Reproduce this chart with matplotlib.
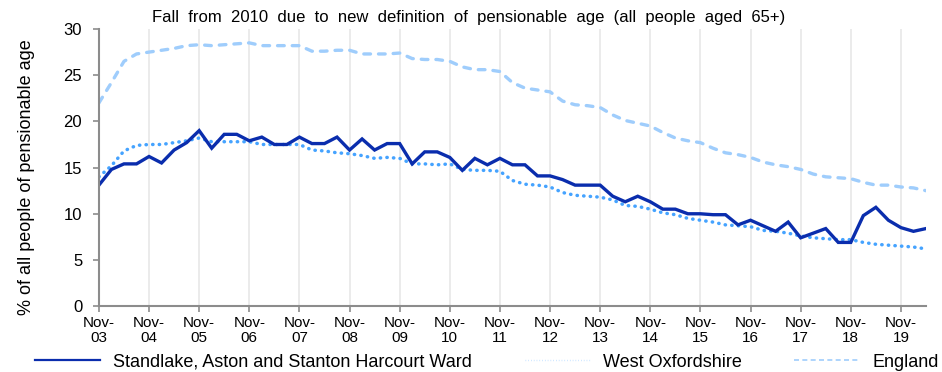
import numpy as np
import matplotlib.pyplot as plt
from matplotlib.lines import Line2D

plt.rcParams['font.family'] = ['Liberation Sans', 'DejaVu Sans']

# quarterly figures, Nov-03 onwards (% of all people of pensionable age)
ward = [13.1, 14.8, 15.4, 15.4, 16.2, 15.5, 16.9, 17.7, 19.0, 17.1,
        18.6, 18.6, 17.9, 18.3, 17.5, 17.5, 18.3, 17.6, 17.6, 18.3,
        16.9, 18.1, 16.9, 17.6, 17.6, 15.4, 16.7, 16.7, 16.1, 14.7,
        16.0, 15.3, 16.0, 15.3, 15.3, 14.1, 14.1, 13.7, 13.1, 13.1,
        13.1, 11.9, 11.3, 11.9, 11.3, 10.5, 10.5, 10.0, 10.0, 9.9,
        9.9, 8.8, 9.3, 8.7, 8.1, 9.1, 7.4, 7.9, 8.4, 6.9,
        6.9, 9.8, 10.7, 9.3, 8.5, 8.1, 8.4]
west_oxon = [14.0, 15.2, 16.8, 17.4, 17.5, 17.5, 17.7, 17.9, 18.2, 17.8,
             17.8, 17.8, 17.8, 17.5, 17.5, 17.5, 17.5, 16.9, 16.8, 16.6,
             16.5, 16.3, 16.0, 16.1, 16.0, 15.4, 15.4, 15.3, 15.4, 14.8,
             14.7, 14.7, 14.6, 13.6, 13.2, 13.1, 12.9, 12.3, 12.0, 11.9,
             11.8, 11.5, 10.9, 10.8, 10.5, 10.1, 9.9, 9.5, 9.3, 9.1,
             8.8, 8.7, 8.6, 8.2, 8.1, 7.9, 7.6, 7.4, 7.3, 7.2,
             7.2, 6.9, 6.7, 6.6, 6.5, 6.4, 6.2]
england = [22.0, 24.2, 26.5, 27.3, 27.5, 27.7, 27.9, 28.2, 28.3, 28.2,
           28.3, 28.4, 28.5, 28.2, 28.2, 28.2, 28.2, 27.6, 27.6, 27.7,
           27.7, 27.3, 27.3, 27.3, 27.4, 26.8, 26.7, 26.7, 26.5, 25.9,
           25.6, 25.6, 25.4, 24.2, 23.6, 23.4, 23.2, 22.2, 21.8, 21.7,
           21.5, 20.7, 20.1, 19.8, 19.5, 18.8, 18.2, 17.9, 17.7, 17.1,
           16.6, 16.4, 16.1, 15.6, 15.3, 15.1, 14.8, 14.3, 14.0, 13.9,
           13.8, 13.4, 13.1, 13.1, 12.9, 12.8, 12.5]
years = ['03', '04', '05', '06', '07', '08', '09', '10', '11', '12',
         '13', '14', '15', '16', '17', '18', '19']
names = ['Standlake, Aston and Stanton Harcourt Ward', 'West Oxfordshire', 'England']

dark = '#0a2dad'
mid = '#45a3ff'
light = '#9fcdfc'
axis_grey = '#8c8c8c'

x = np.arange(len(ward))

fig = plt.figure(figsize=(9.42, 3.72), dpi=100)
ax = fig.add_axes([0.105, 0.177, 0.878, 0.745])

ax.plot(x, england, color=light, lw=2.4, dashes=(2.0, 2.4),
        dash_capstyle='round')
ax.plot(x, west_oxon, color=mid, lw=2.5, dashes=(0.1, 1.8),
        dash_capstyle='round')
ax.plot(x, ward, color=dark, lw=2.4, solid_joinstyle='miter')

ax.set_xlim(0, len(ward) - 1)
ax.set_ylim(0, 30)
ax.set_yticks(range(0, 31, 5))
ax.set_xticks(np.arange(len(years)) * 4)
ax.set_xticklabels(['Nov-\n' + y for y in years], fontsize=11,
                   linespacing=1.1)
ax.tick_params(axis='y', labelsize=12, length=4, width=1.2,
               color=axis_grey, pad=8)
ax.tick_params(axis='x', length=4, width=1.2, color=axis_grey, pad=3)
ax.grid(axis='x', color='#e9e9e9', lw=1.3)
ax.set_axisbelow(True)
for side in ['top', 'right']:
    ax.spines[side].set_visible(False)
for side in ['left', 'bottom']:
    ax.spines[side].set_color(axis_grey)
    ax.spines[side].set_linewidth(1.5)

fig.text(0.497, 1 - 21.7 / 372,
         'Fall  from  2010  due  to  new  definition  of  pensionable  age  (all  people  aged  65+)',
         ha='center', va='baseline', fontsize=12)
fig.text(27 / 942, 0.524, '% of all people of pensionable age',
         rotation=90, ha='center', va='center', fontsize=13)

handles = [Line2D([], [], color=dark, lw=1.6),
           Line2D([], [], color=mid, lw=1.0, dashes=(0.5, 1.5), alpha=0.35),
           Line2D([], [], color=light, lw=1.2, dashes=(3, 2))]
fig.legend(handles, names, loc='lower center', bbox_to_anchor=(0.517, -0.04),
           ncol=3, frameon=False, fontsize=13, handlelength=3.6,
           handletextpad=0.75, columnspacing=2.9)

fig.savefig('out.png', dpi=100)
